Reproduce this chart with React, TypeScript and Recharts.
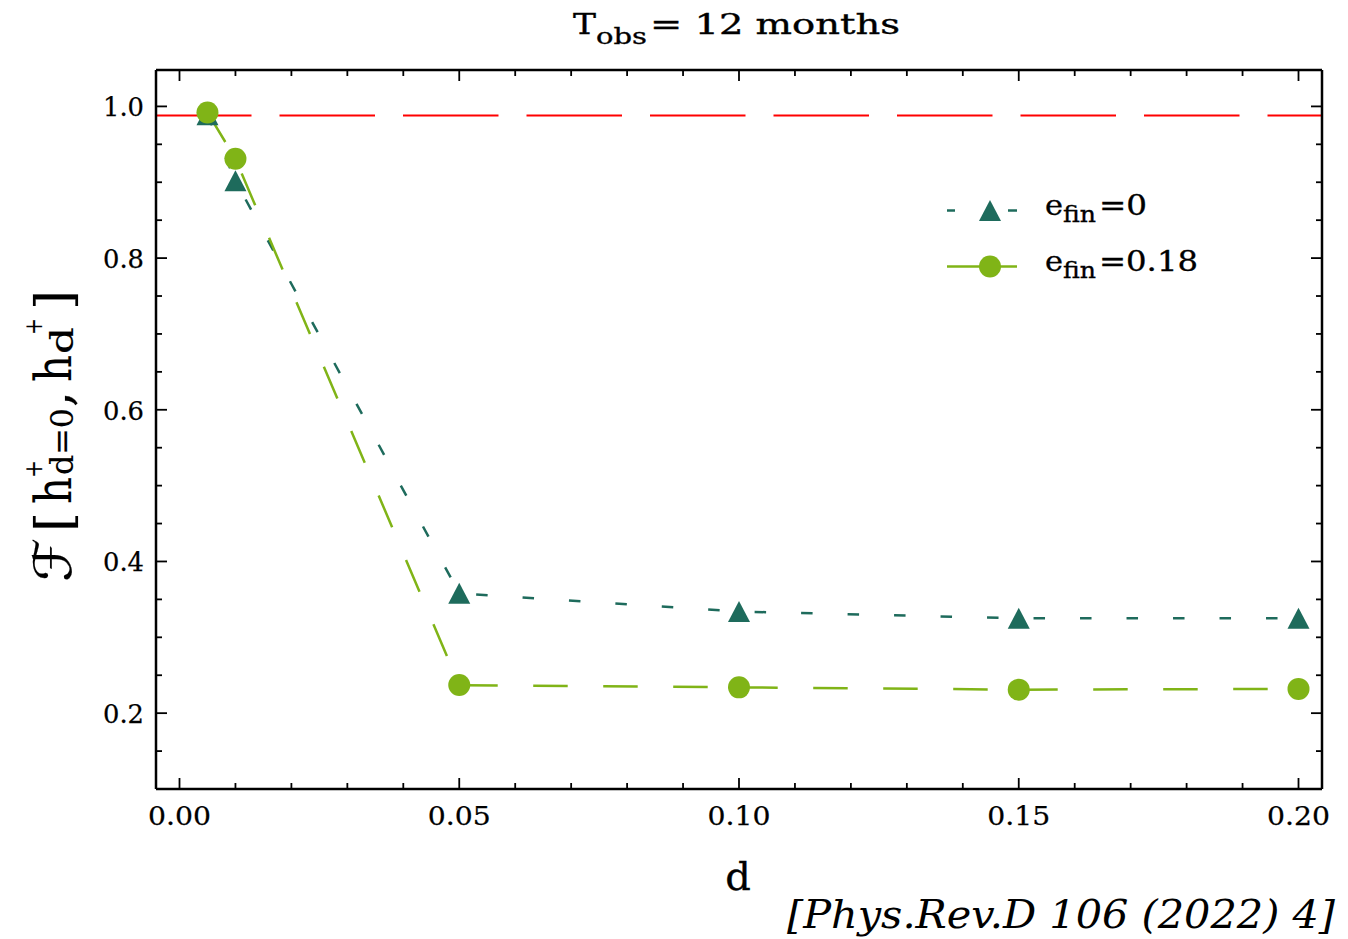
import React from "react";
import { ComposedChart, Line, XAxis, YAxis, ReferenceLine } from "recharts";

const dValues = [0.005, 0.01, 0.05, 0.1, 0.15, 0.2];
const fidelityE0 = [0.989, 0.902, 0.358, 0.334, 0.325, 0.325];
const fidelityE018 = [0.992, 0.931, 0.237, 0.234, 0.231, 0.232];
const referenceLevel = 0.988;

const xTicksAll = [0, 0.01, 0.02, 0.03, 0.04, 0.05, 0.06, 0.07, 0.08, 0.09, 0.1, 0.11, 0.12, 0.13, 0.14, 0.15, 0.16, 0.17, 0.18, 0.19, 0.2];
const xMajorTicks = [0, 0.05, 0.1, 0.15, 0.2];
const xTickLabels = ["0.00", "0.05", "0.10", "0.15", "0.20"];
const yTicksAll = [0.15, 0.2, 0.25, 0.3, 0.35, 0.4, 0.45, 0.5, 0.55, 0.6, 0.65, 0.7, 0.75, 0.8, 0.85, 0.9, 0.95, 1.0];
const yMajorTicks = [0.2, 0.4, 0.6, 0.8, 1.0];
const yTickLabels = ["0.2", "0.4", "0.6", "0.8", "1.0"];

const seriesNames = ["0", "0.18"];

const TEAL = "#1e6b5c";
const GREEN = "#80b417";
const SERIF = "'DejaVu Serif', serif";

const data = dValues.map((d, i) => ({ d, e0: fidelityE0[i], e18: fidelityE018[i] }));

const majorIndex = (list: number[], v: number) => list.findIndex((m) => Math.abs(m - v) < 1e-9);

const XTick = (side: "bottom" | "top") => (props: any) => {
  const { x, y, payload } = props;
  const mi = majorIndex(xMajorTicks, payload.value);
  const len = mi >= 0 ? 11 : 6;
  const dir = side === "bottom" ? -1 : 1;
  return (
    <g>
      <line x1={x} x2={x} y1={y} y2={y + dir * len} stroke="#000" strokeWidth={1.8} />
      {side === "bottom" && mi >= 0 && (
        <text
          x={x}
          y={y + 36}
          textAnchor="middle"
          fontFamily={SERIF}
          fontSize={26}
          textLength={63}
          lengthAdjust="spacingAndGlyphs"
          fill="#000"
          stroke="#000"
          strokeWidth={0.25}
        >
          {xTickLabels[mi]}
        </text>
      )}
    </g>
  );
};

const YTick = (side: "left" | "right") => (props: any) => {
  const { x, y, payload } = props;
  const mi = majorIndex(yMajorTicks, payload.value);
  const len = mi >= 0 ? 11 : 6;
  const dir = side === "left" ? 1 : -1;
  return (
    <g>
      <line x1={x} x2={x + dir * len} y1={y} y2={y} stroke="#000" strokeWidth={1.8} />
      {side === "left" && mi >= 0 && (
        <text
          x={x - 12}
          y={y + 10}
          textAnchor="end"
          fontFamily={SERIF}
          fontSize={26}
          textLength={41}
          lengthAdjust="spacingAndGlyphs"
          fill="#000"
          stroke="#000"
          strokeWidth={0.25}
        >
          {yTickLabels[mi]}
        </text>
      )}
    </g>
  );
};

const TriangleDot = (props: any) => {
  const { cx, cy, index } = props;
  if (cx == null || cy == null) return <g key={`t-${index}`} />;
  return (
    <polygon
      key={`t-${index}`}
      points={`${cx},${cy - 10.5} ${cx - 11},${cy + 10.5} ${cx + 11},${cy + 10.5}`}
      fill={TEAL}
    />
  );
};

const CircleDot = (props: any) => {
  const { cx, cy, index } = props;
  if (cx == null || cy == null) return <g key={`c-${index}`} />;
  return <circle key={`c-${index}`} cx={cx} cy={cy} r={11} fill={GREEN} />;
};

const txt = { fontFamily: SERIF, fill: "#000", stroke: "#000", strokeWidth: 0.35 };
const ytxt = { fontFamily: SERIF, fill: "#000", stroke: "#000", strokeWidth: 0.15 };

export default function App() {
  return (
    <div style={{ position: "absolute", left: 0, top: 0, width: 1348, height: 939, background: "#fff" }}>
      <ComposedChart
        width={1348}
        height={939}
        data={data}
        margin={{ top: 69, right: 25, bottom: 90, left: 96 }}
      >
        <XAxis
          xAxisId="bottom"
          dataKey="d"
          type="number"
          domain={[-0.0042, 0.2042]}
          allowDataOverflow
          ticks={xTicksAll}
          interval={0}
          height={60}
          tickSize={0}
          tickMargin={0}
          tickLine={false}
          axisLine={{ stroke: "#000", strokeWidth: 2.5 }}
          tick={XTick("bottom")}
        />
        <XAxis
          xAxisId="top"
          orientation="top"
          dataKey="d"
          type="number"
          domain={[-0.0042, 0.2042]}
          allowDataOverflow
          ticks={xTicksAll}
          interval={0}
          height={1}
          tickSize={0}
          tickMargin={0}
          tickLine={false}
          axisLine={{ stroke: "#000", strokeWidth: 2.5 }}
          tick={XTick("top")}
        />
        <YAxis
          yAxisId="left"
          type="number"
          domain={[0.1, 1.048]}
          allowDataOverflow
          ticks={yTicksAll}
          interval={0}
          width={60}
          tickSize={0}
          tickMargin={0}
          tickLine={false}
          axisLine={{ stroke: "#000", strokeWidth: 2.5 }}
          tick={YTick("left")}
        />
        <YAxis
          yAxisId="right"
          orientation="right"
          type="number"
          domain={[0.1, 1.048]}
          allowDataOverflow
          ticks={yTicksAll}
          interval={0}
          width={1}
          tickSize={0}
          tickMargin={0}
          tickLine={false}
          axisLine={{ stroke: "#000", strokeWidth: 2.5 }}
          tick={YTick("right")}
        />
        <ReferenceLine
          xAxisId="bottom"
          yAxisId="left"
          y={referenceLevel}
          stroke="#ff0000"
          strokeWidth={2}
          strokeDasharray="95.5 28"
        />
        <Line
          xAxisId="top"
          yAxisId="right"
          type="linear"
          dataKey="e0"
          stroke="none"
          dot={false}
          activeDot={false}
          legendType="none"
          isAnimationActive={false}
        />
        <Line
          xAxisId="bottom"
          yAxisId="left"
          type="linear"
          dataKey="e0"
          name={seriesNames[0]}
          stroke={TEAL}
          strokeWidth={2.5}
          strokeDasharray="11.5 35"
          dot={TriangleDot}
          activeDot={false}
          isAnimationActive={false}
        />
        <Line
          xAxisId="bottom"
          yAxisId="left"
          type="linear"
          dataKey="e18"
          name={seriesNames[1]}
          stroke={GREEN}
          strokeWidth={2.5}
          strokeDasharray="34.5 35.5"
          dot={CircleDot}
          activeDot={false}
          isAnimationActive={false}
        />
      </ComposedChart>
      <svg
        width={1348}
        height={939}
        style={{ position: "absolute", left: 0, top: 0, pointerEvents: "none" }}
      >
        {/* title */}
        <text {...txt}>
          <tspan x={573} y={34} fontSize={28} textLength={23} lengthAdjust="spacingAndGlyphs">T</tspan>
          <tspan x={596} y={44} fontSize={23} textLength={51} lengthAdjust="spacingAndGlyphs">obs</tspan>
          <tspan x={650} y={34} fontSize={28} textLength={250} lengthAdjust="spacingAndGlyphs">= 12 months</tspan>
        </text>
        {/* x label */}
        <text {...txt} x={738} y={890} textAnchor="middle" fontSize={40}>d</text>
        {/* y label */}
        <text {...ytxt} transform="translate(71,431) rotate(-90)">
          <tspan x={-151} y={0} fontSize={52} fontFamily="'DejaVu Sans', sans-serif" textLength={44} lengthAdjust="spacingAndGlyphs">ℱ</tspan>
          <tspan x={-101} y={0} fontSize={50} textLength={20} lengthAdjust="spacingAndGlyphs">[</tspan>
          <tspan x={-73} y={0} fontSize={50} textLength={27} lengthAdjust="spacingAndGlyphs">h</tspan>
          <tspan x={-47} y={-29} fontSize={25} textLength={18} lengthAdjust="spacingAndGlyphs">+</tspan>
          <tspan x={-44} y={2} fontSize={32} textLength={67} lengthAdjust="spacingAndGlyphs">d=0</tspan>
          <tspan x={24} y={0} fontSize={50}>,</tspan>
          <tspan x={49} y={0} fontSize={50} textLength={27} lengthAdjust="spacingAndGlyphs">h</tspan>
          <tspan x={96} y={-29} fontSize={25} textLength={17} lengthAdjust="spacingAndGlyphs">+</tspan>
          <tspan x={77} y={2} fontSize={32} textLength={27} lengthAdjust="spacingAndGlyphs">d</tspan>
          <tspan x={121} y={0} fontSize={50} textLength={20} lengthAdjust="spacingAndGlyphs">]</tspan>
        </text>
        {/* legend */}
        <line x1={947} x2={955} y1={210.5} y2={210.5} stroke={TEAL} strokeWidth={2.5} />
        <line x1={1008} x2={1017} y1={210.5} y2={210.5} stroke={TEAL} strokeWidth={2.5} />
        <polygon points={`990,200 979,221 1001,221`} fill={TEAL} />
        <line x1={947} x2={1017} y1={266.5} y2={266.5} stroke={GREEN} strokeWidth={2.5} />
        <circle cx={990} cy={266.5} r={11} fill={GREEN} />
        <text {...txt}>
          <tspan x={1045} y={215} fontSize={28} textLength={18} lengthAdjust="spacingAndGlyphs">e</tspan>
          <tspan x={1063} y={222} fontSize={22} textLength={33} lengthAdjust="spacingAndGlyphs">fin</tspan>
          <tspan x={1099} y={215} fontSize={28} textLength={48} lengthAdjust="spacingAndGlyphs">{"=" + seriesNames[0]}</tspan>
        </text>
        <text {...txt}>
          <tspan x={1045} y={271} fontSize={28} textLength={18} lengthAdjust="spacingAndGlyphs">e</tspan>
          <tspan x={1063} y={278} fontSize={22} textLength={33} lengthAdjust="spacingAndGlyphs">fin</tspan>
          <tspan x={1099} y={271} fontSize={28} textLength={99} lengthAdjust="spacingAndGlyphs">{"=" + seriesNames[1]}</tspan>
        </text>
        {/* citation */}
        <text
          x={787}
          y={928}
          fontFamily={SERIF}
          fontStyle="italic"
          fontSize={39}
          textLength={548}
          lengthAdjust="spacingAndGlyphs"
          fill="#000"
        >
          [Phys.Rev.D 106 (2022) 4]
        </text>
      </svg>
    </div>
  );
}
